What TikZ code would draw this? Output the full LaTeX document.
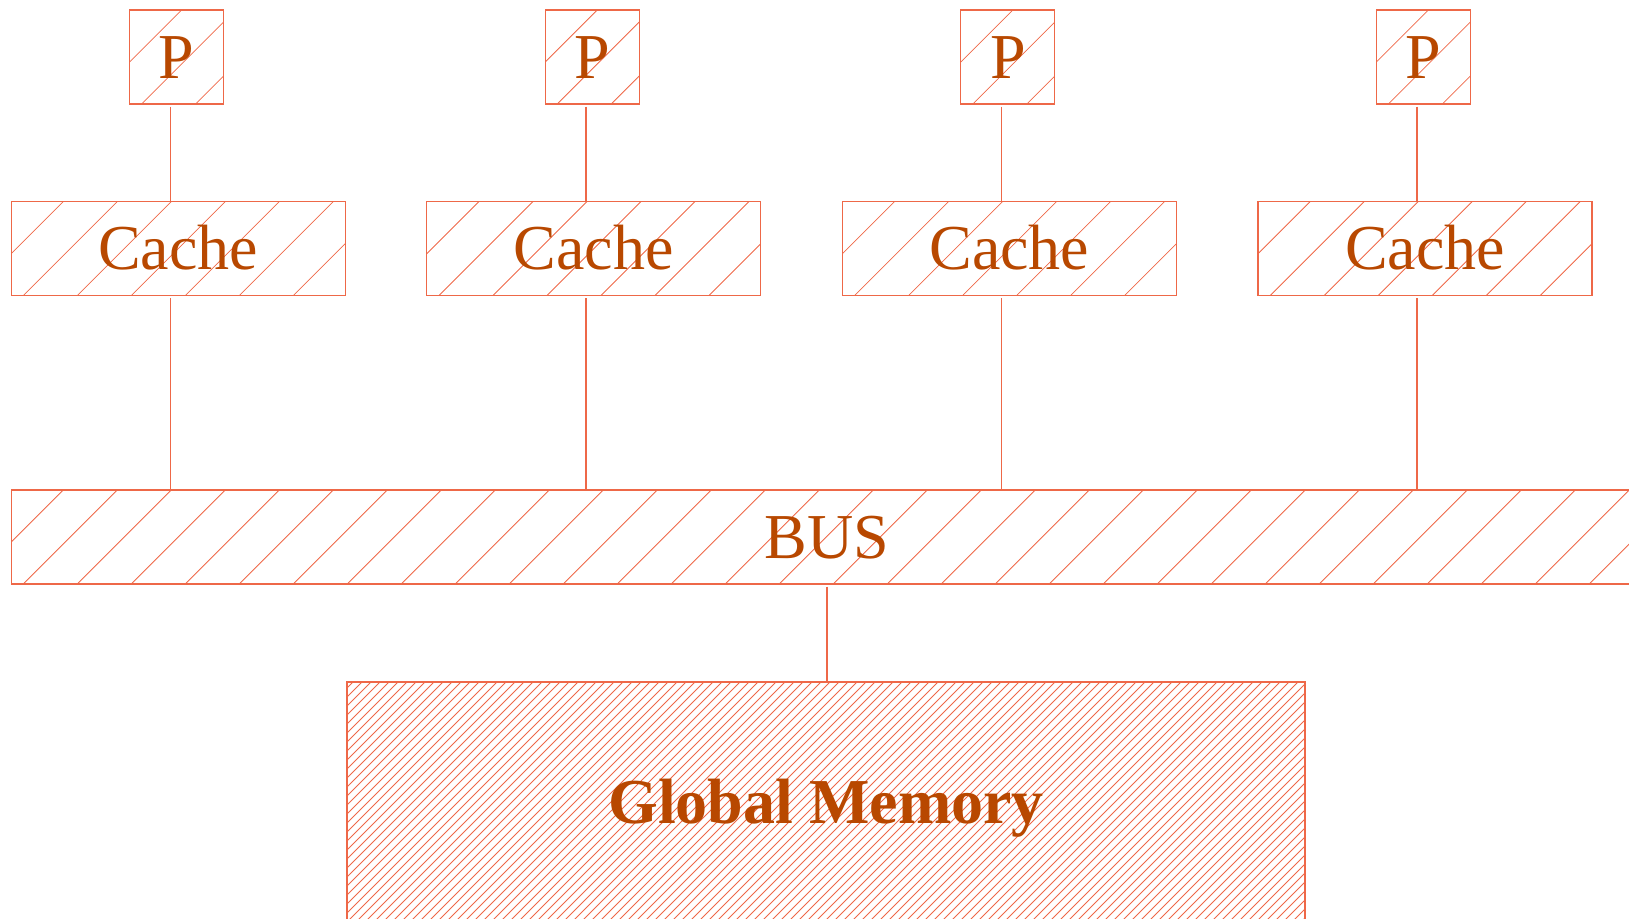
\documentclass[tikz,border=0pt]{standalone}
\usepackage{fontspec}
\setmainfont{Liberation Serif}
\definecolor{linec}{RGB}{238,104,72}
\definecolor{textc}{RGB}{184,72,0}
\tikzset{
  hatchline/.style={draw=linec,line width=0.8pt},
  hatch/.style 2 args={path picture={
    \foreach \k in {-30,...,190}
      \draw[hatchline] ([xshift=\k*#1+#2]path picture bounding box.south west) -- ++(300pt,300pt);
  }},
  unit/.style={draw=linec,line width=1.2pt,inner sep=0pt,text=textc,
    font=\fontsize{64}{70}\selectfont,text height=42pt,text depth=0pt},
  pbox/.style={unit,minimum width=94pt,minimum height=94pt,hatch={54pt}{12pt}},
  cbox/.style={unit,minimum width=334pt,minimum height=94pt,hatch={54pt}{12pt}},
  busbox/.style={unit,minimum width=1632pt,minimum height=94pt,hatch={54pt}{12pt}},
  membox/.style={unit,minimum width=958pt,minimum height=240pt,hatch={9pt}{0pt},
    font=\fontsize{64}{70}\selectfont\bfseries},
  conn/.style={draw=linec,line width=1.5pt,shorten <=2pt}
}
\begin{document}
\begin{tikzpicture}[x=1pt,y=-1pt]
\useasboundingbox (0,0) rectangle (1629,918);
\foreach \i in {0,...,3}{
  \node[pbox] (p\i) at ({176.6+415.6*\i},57) {P};
  \node[cbox] (c\i) at ({178.2+415.6*\i},248.7) {Cache};
  \coordinate (k\i) at ({170.3+415.6*\i},0);
}
\node[busbox] (bus) at (827.2,537) {BUS};
\node[membox] (mem) at (826,802) {Global Memory};
\foreach \i in {0,...,3}{
  \draw[conn] (p\i.south -| k\i) -- (c\i.north -| k\i);
  \draw[conn] (c\i.south -| k\i) -- (bus.north -| k\i);
}
\draw[conn] (bus.south) -- (bus.south |- mem.north);
\end{tikzpicture}
\end{document}
